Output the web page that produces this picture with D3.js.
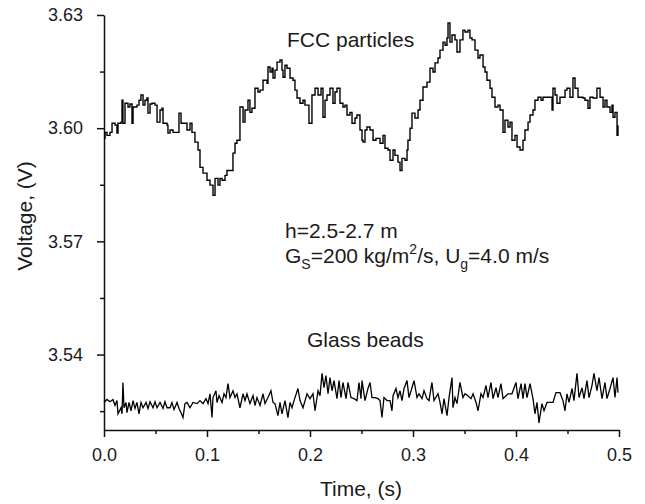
<!DOCTYPE html>
<html>
<head>
<meta charset="utf-8">
<script src="https://cdn.jsdelivr.net/npm/d3@7"></script>
<style>
  html, body { margin: 0; padding: 0; background: #fff; }
  svg { display: block; }
</style>
</head>
<body>
<div id="chart"></div>
<script>
// Voltage signal of FCC particles vs glass beads

// FCC particles trace
const fccTime = [
  0.0000,0.0010,0.0029,0.0058,0.0078,0.0107,0.0126,0.0136,0.0165,0.0175,
  0.0184,0.0204,0.0233,0.0252,0.0272,0.0282,0.0320,0.0340,0.0359,0.0379,
  0.0398,0.0417,0.0427,0.0447,0.0466,0.0495,0.0515,0.0544,0.0563,0.0573,
  0.0612,0.0621,0.0641,0.0670,0.0709,0.0728,0.0748,0.0786,0.0806,0.0835,
  0.0854,0.0883,0.0913,0.0932,0.0961,0.1000,0.1029,0.1058,0.1078,0.1107,
  0.1126,0.1146,0.1175,0.1194,0.1223,0.1252,0.1272,0.1291,0.1320,0.1350,
  0.1369,0.1398,0.1417,0.1437,0.1466,0.1495,0.1515,0.1544,0.1583,0.1592,
  0.1612,0.1631,0.1641,0.1660,0.1680,0.1709,0.1728,0.1738,0.1757,0.1777,
  0.1806,0.1835,0.1854,0.1874,0.1903,0.1932,0.1951,0.1990,0.2019,0.2049,
  0.2078,0.2107,0.2126,0.2146,0.2165,0.2194,0.2223,0.2243,0.2262,0.2291,
  0.2320,0.2340,0.2359,0.2388,0.2408,0.2437,0.2456,0.2485,0.2505,0.2515,
  0.2534,0.2553,0.2583,0.2612,0.2641,0.2680,0.2709,0.2728,0.2757,0.2777,
  0.2806,0.2825,0.2854,0.2874,0.2893,0.2922,0.2942,0.2951,0.2971,0.2990,
  0.3019,0.3049,0.3068,0.3097,0.3136,0.3165,0.3194,0.3214,0.3243,0.3262,
  0.3291,0.3311,0.3330,0.3340,0.3359,0.3379,0.3408,0.3427,0.3456,0.3485,
  0.3505,0.3534,0.3553,0.3573,0.3602,0.3631,0.3650,0.3680,0.3699,0.3718,
  0.3748,0.3767,0.3796,0.3825,0.3845,0.3874,0.3893,0.3922,0.3942,0.3961,
  0.3990,0.4010,0.4039,0.4068,0.4087,0.4117,0.4136,0.4165,0.4184,0.4214,
  0.4243,0.4262,0.4291,0.4330,0.4350,0.4359,0.4379,0.4398,0.4427,0.4476,
  0.4495,0.4524,0.4553,0.4573,0.4602,0.4650,0.4670,0.4699,0.4718,0.4748,
  0.4786,0.4816,0.4845,0.4864,0.4883,0.4913,0.4932,0.4942,0.4961,0.4981,
  0.4990
];
const fccVoltage = [
  3.5973,3.5989,3.5981,3.5989,3.6013,3.6008,3.5987,3.6013,3.6016,3.6074,
  3.6013,3.6066,3.6056,3.6064,3.6013,3.6056,3.6061,3.6074,3.6088,3.6061,
  3.6074,3.6080,3.6040,3.6064,3.6066,3.6061,3.6016,3.6048,3.6053,3.6013,
  3.6008,3.5987,3.5995,3.5989,3.5989,3.6040,3.6013,3.6013,3.5995,3.6013,
  3.5989,3.5963,3.5942,3.5896,3.5881,3.5862,3.5849,3.5822,3.5867,3.5849,
  3.5867,3.5862,3.5875,3.5888,3.5888,3.5934,3.5960,3.5968,3.6056,3.6016,
  3.6048,3.6074,3.6042,3.6053,3.6106,3.6096,3.6101,3.6127,3.6119,3.6162,
  3.6149,3.6159,3.6133,3.6154,3.6175,3.6181,3.6154,3.6135,3.6167,3.6159,
  3.6133,3.6127,3.6101,3.6080,3.6066,3.6074,3.6061,3.6013,3.6088,3.6106,
  3.6088,3.6106,3.6029,3.6074,3.6088,3.6106,3.6066,3.6096,3.6106,3.6066,
  3.6056,3.6061,3.6035,3.6042,3.6013,3.6027,3.6035,3.5995,3.5968,3.5963,
  3.5995,3.6003,3.5995,3.5968,3.5973,3.5960,3.5981,3.5947,3.5942,3.5915,
  3.5942,3.5928,3.5910,3.5888,3.5920,3.5915,3.5942,3.5968,3.6000,3.6040,
  3.6027,3.6048,3.6074,3.6109,3.6122,3.6159,3.6149,3.6173,3.6186,3.6207,
  3.6228,3.6220,3.6239,3.6279,3.6228,3.6247,3.6234,3.6202,3.6234,3.6260,
  3.6255,3.6260,3.6239,3.6234,3.6207,3.6186,3.6194,3.6162,3.6149,3.6127,
  3.6106,3.6082,3.6056,3.6061,3.6048,3.5989,3.6021,3.6003,3.6016,3.5968,
  3.5981,3.5950,3.5942,3.5968,3.5995,3.6016,3.6035,3.6048,3.6074,3.6082,
  3.6074,3.6082,3.6082,3.6082,3.6048,3.6106,3.6088,3.6066,3.6082,3.6101,
  3.6106,3.6082,3.6133,3.6106,3.6082,3.6080,3.6074,3.6053,3.6082,3.6080,
  3.6106,3.6082,3.6056,3.6074,3.6056,3.6042,3.6061,3.6029,3.6042,3.5981,
  3.6008
];

// Glass beads trace
const glassTime = [
  0.0000,0.0029,0.0058,0.0087,0.0107,0.0126,0.0136,0.0165,0.0175,0.0184,
  0.0194,0.0214,0.0223,0.0243,0.0262,0.0282,0.0301,0.0320,0.0340,0.0359,
  0.0379,0.0408,0.0427,0.0447,0.0476,0.0495,0.0515,0.0544,0.0573,0.0592,
  0.0612,0.0641,0.0660,0.0680,0.0709,0.0728,0.0748,0.0767,0.0786,0.0806,
  0.0835,0.0864,0.0903,0.0932,0.0961,0.0990,0.1010,0.1029,0.1049,0.1058,
  0.1087,0.1097,0.1117,0.1146,0.1165,0.1184,0.1204,0.1223,0.1252,0.1272,
  0.1291,0.1320,0.1350,0.1369,0.1388,0.1417,0.1447,0.1466,0.1485,0.1515,
  0.1544,0.1563,0.1592,0.1621,0.1641,0.1660,0.1689,0.1709,0.1728,0.1757,
  0.1786,0.1806,0.1825,0.1845,0.1883,0.1903,0.1932,0.1971,0.2000,0.2029,
  0.2049,0.2078,0.2097,0.2117,0.2136,0.2155,0.2175,0.2194,0.2214,0.2233,
  0.2262,0.2282,0.2301,0.2320,0.2350,0.2369,0.2398,0.2427,0.2456,0.2476,
  0.2495,0.2505,0.2534,0.2563,0.2583,0.2602,0.2631,0.2660,0.2680,0.2699,
  0.2718,0.2748,0.2777,0.2796,0.2806,0.2835,0.2854,0.2874,0.2893,0.2913,
  0.2942,0.2961,0.2990,0.3010,0.3039,0.3058,0.3087,0.3107,0.3136,0.3155,
  0.3184,0.3204,0.3243,0.3262,0.3282,0.3301,0.3330,0.3350,0.3379,0.3388,
  0.3408,0.3427,0.3456,0.3485,0.3505,0.3534,0.3563,0.3583,0.3612,0.3631,
  0.3660,0.3680,0.3709,0.3728,0.3757,0.3777,0.3806,0.3825,0.3854,0.3874,
  0.3903,0.3922,0.3961,0.4000,0.4019,0.4049,0.4068,0.4087,0.4107,0.4136,
  0.4165,0.4184,0.4204,0.4223,0.4252,0.4272,0.4301,0.4359,0.4388,0.4427,
  0.4456,0.4476,0.4495,0.4515,0.4544,0.4563,0.4592,0.4612,0.4641,0.4660,
  0.4689,0.4709,0.4738,0.4757,0.4786,0.4806,0.4835,0.4864,0.4883,0.4913,
  0.4942,0.4961,0.4981,0.4990
];
const glassVoltage = [
  3.5273,3.5281,3.5275,3.5281,3.5265,3.5278,3.5243,3.5259,3.5243,3.5326,
  3.5259,3.5273,3.5246,3.5273,3.5251,3.5278,3.5257,3.5273,3.5243,3.5273,
  3.5259,3.5273,3.5257,3.5275,3.5259,3.5275,3.5259,3.5273,3.5257,3.5275,
  3.5259,3.5259,3.5273,3.5254,3.5273,3.5257,3.5246,3.5233,3.5270,3.5273,
  3.5259,3.5273,3.5270,3.5278,3.5270,3.5283,3.5270,3.5296,3.5233,3.5286,
  3.5304,3.5273,3.5291,3.5273,3.5296,3.5286,3.5323,3.5286,3.5304,3.5286,
  3.5296,3.5259,3.5296,3.5278,3.5296,3.5270,3.5291,3.5265,3.5286,3.5265,
  3.5296,3.5270,3.5286,3.5304,3.5273,3.5270,3.5238,3.5273,3.5243,3.5278,
  3.5233,3.5273,3.5259,3.5278,3.5310,3.5278,3.5259,3.5296,3.5283,3.5296,
  3.5251,3.5304,3.5291,3.5350,3.5312,3.5344,3.5296,3.5339,3.5304,3.5331,
  3.5283,3.5331,3.5286,3.5326,3.5283,3.5326,3.5286,3.5283,3.5278,3.5326,
  3.5283,3.5331,3.5278,3.5310,3.5326,3.5286,3.5286,3.5283,3.5278,3.5233,
  3.5286,3.5278,3.5278,3.5251,3.5291,3.5310,3.5286,3.5304,3.5278,3.5310,
  3.5331,3.5286,3.5312,3.5331,3.5286,3.5296,3.5283,3.5304,3.5283,3.5278,
  3.5326,3.5278,3.5296,3.5273,3.5243,3.5283,3.5238,3.5286,3.5339,3.5259,
  3.5286,3.5270,3.5326,3.5286,3.5296,3.5291,3.5283,3.5296,3.5273,3.5251,
  3.5296,3.5286,3.5318,3.5286,3.5326,3.5283,3.5312,3.5286,3.5323,3.5283,
  3.5291,3.5296,3.5296,3.5326,3.5283,3.5323,3.5283,3.5323,3.5286,3.5323,
  3.5283,3.5243,3.5273,3.5219,3.5270,3.5251,3.5273,3.5273,3.5299,3.5299,
  3.5278,3.5251,3.5296,3.5273,3.5310,3.5278,3.5350,3.5286,3.5312,3.5283,
  3.5331,3.5286,3.5318,3.5350,3.5304,3.5339,3.5283,3.5326,3.5283,3.5310,
  3.5339,3.5286,3.5339,3.5299
];

// Axis ticks
const xMajorTicks = [0.0, 0.1, 0.2, 0.3, 0.4, 0.5];
const xMinorTicks = [0.05, 0.15, 0.25, 0.35, 0.45];
const yMajorTicks = [3.54, 3.57, 3.60, 3.63];
const yMinorTicks = [3.525, 3.555, 3.585, 3.615];

// Set up dimensions
const width = 645;
const height = 504;
const margin = {top: 15, right: 26, bottom: 74, left: 104};
const fontFamily = "'Liberation Sans', Arial, Helvetica, sans-serif";
const textColor = "#1a1a1a";

const svg = d3.select("#chart").append("svg")
  .attr("width", width)
  .attr("height", height);

const x = d3.scaleLinear()
  .domain([0, 0.5])
  .range([margin.left, width - margin.right]);

const y = d3.scaleLinear()
  .domain([3.52, 3.63])
  .range([height - margin.bottom, margin.top]);

// Minor ticks first (no labels, no domain line)
svg.append("g")
  .attr("transform", `translate(0,${height - margin.bottom})`)
  .call(d3.axisBottom(x).tickValues(xMinorTicks).tickSize(4).tickFormat(""))
  .call(g => g.select(".domain").remove());

svg.append("g")
  .attr("transform", `translate(${margin.left},0)`)
  .call(d3.axisLeft(y).tickValues(yMinorTicks).tickSize(4).tickFormat(""))
  .call(g => g.select(".domain").remove());

// Major axes
const xAxis = svg.append("g")
  .attr("transform", `translate(0,${height - margin.bottom})`)
  .call(d3.axisBottom(x)
    .tickValues(xMajorTicks)
    .tickSize(7)
    .tickSizeOuter(0)
    .tickPadding(11)
    .tickFormat(d3.format(".1f")));

const yAxis = svg.append("g")
  .attr("transform", `translate(${margin.left},0)`)
  .call(d3.axisLeft(y)
    .tickValues(yMajorTicks)
    .tickSize(7)
    .tickSizeOuter(0)
    .tickPadding(14)
    .tickFormat(d3.format(".2f")));

svg.selectAll(".tick line, .domain")
  .attr("stroke", "#111")
  .attr("stroke-width", 1.5);

[xAxis, yAxis].forEach(axis => {
  axis.selectAll("text")
    .attr("font-size", "18px")
    .attr("font-family", fontFamily)
    .attr("fill", textColor);
});

// Signal lines: FCC as a staircase, glass beads as a spiky trace
const stepLine = d3.line()
  .x(d => x(d[0]))
  .y(d => y(d[1]))
  .curve(d3.curveStepAfter);

const spikeLine = d3.line()
  .x(d => x(d[0]))
  .y(d => y(d[1]));

svg.append("path")
  .datum(d3.zip(fccTime, fccVoltage))
  .attr("fill", "none")
  .attr("stroke", "#000")
  .attr("stroke-width", 1.4)
  .attr("d", stepLine);

svg.append("path")
  .datum(d3.zip(glassTime, glassVoltage))
  .attr("fill", "none")
  .attr("stroke", "#000")
  .attr("stroke-width", 1.3)
  .attr("d", spikeLine);

// Axis titles
svg.append("text")
  .attr("x", 361)
  .attr("y", 496)
  .attr("text-anchor", "middle")
  .attr("font-size", "21px")
  .attr("font-family", fontFamily)
  .attr("fill", textColor)
  .text("Time, (s)");

svg.append("text")
  .attr("transform", "translate(32,216) rotate(-90)")
  .attr("text-anchor", "middle")
  .attr("font-size", "21px")
  .attr("font-family", fontFamily)
  .attr("fill", textColor)
  .text("Voltage, (V)");

// Annotations
const note = (xPos, yPos, str) => svg.append("text")
  .attr("x", xPos)
  .attr("y", yPos)
  .attr("font-size", "21px")
  .attr("font-family", fontFamily)
  .attr("fill", textColor)
  .text(str);

note(287, 47, "FCC particles");
note(285, 238, "h=2.5-2.7 m");
note(307, 347, "Glass beads");

const flow = svg.append("text")
  .attr("x", 285)
  .attr("y", 263)
  .attr("font-size", "21px")
  .attr("font-family", fontFamily)
  .attr("fill", textColor);
flow.append("tspan").text("G");
flow.append("tspan").attr("font-size", "14px").attr("dy", 6).text("S");
flow.append("tspan").attr("dy", -6).text("=200 kg/m");
flow.append("tspan").attr("font-size", "14px").attr("dy", -9).text("2");
flow.append("tspan").attr("dy", 9).text("/s, U");
flow.append("tspan").attr("font-size", "14px").attr("dy", 6).text("g");
flow.append("tspan").attr("dy", -6).text("=4.0 m/s");
</script>
</body>
</html>
